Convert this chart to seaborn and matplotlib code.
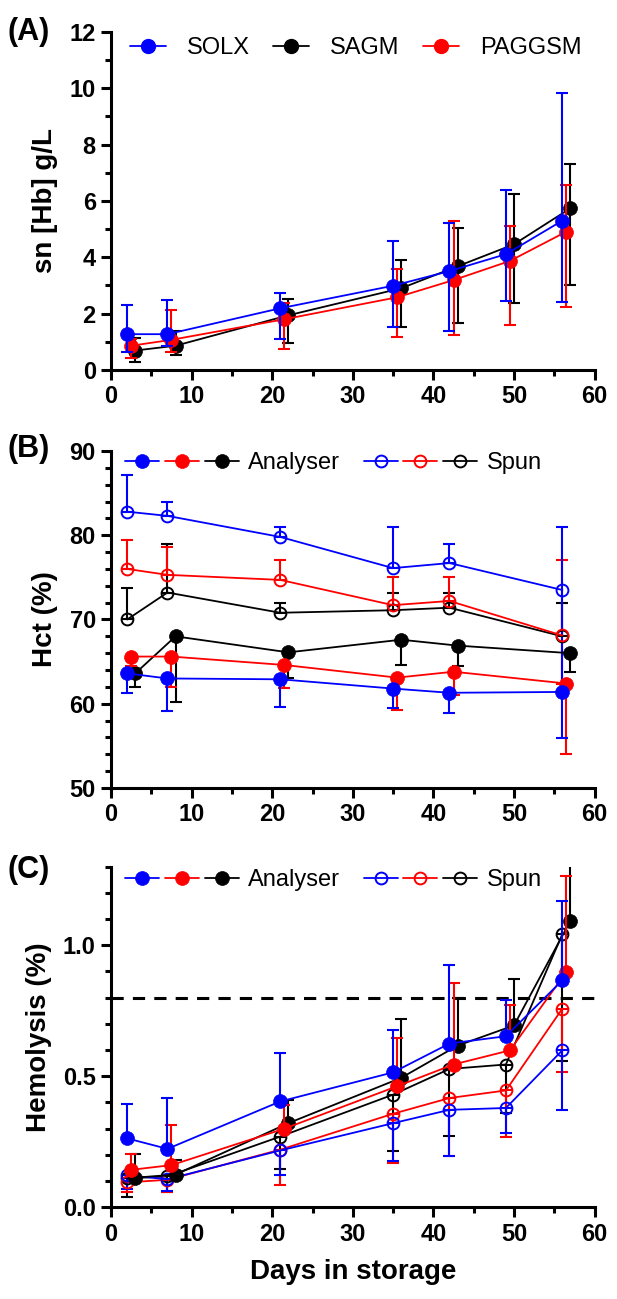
import matplotlib
matplotlib.use('Agg')
import matplotlib.pyplot as plt
import seaborn as sns
from matplotlib.lines import Line2D
from matplotlib.legend_handler import HandlerTuple
from matplotlib.ticker import MultipleLocator

# ---- data ----
# Panel A : supernatant Hb (g/L), mean with lower / upper bar ends
days_a = [2, 7, 21, 35, 42, 49, 56]
solx_hb = [1.27, 1.27, 2.19, 2.99, 3.51, 4.11, 5.30]
solx_hb_lo = [0.65, 0.86, 1.09, 1.54, 1.40, 2.46, 2.42]
solx_hb_hi = [2.31, 2.50, 2.74, 4.58, 5.23, 6.38, 9.83]
sagm_hb = [0.69, 0.86, 1.94, 2.90, 3.68, 4.46, 5.74]
sagm_hb_lo = [0.30, 0.54, 0.97, 1.54, 1.68, 2.39, 3.03]
sagm_hb_hi = [1.15, 1.38, 2.52, 3.90, 5.05, 6.25, 7.30]
pag_hb = [0.86, 1.07, 1.80, 2.58, 3.19, 3.87, 4.91]
pag_hb_lo = [0.44, 0.62, 0.76, 1.18, 1.25, 1.61, 2.25]
pag_hb_hi = [1.10, 2.14, 2.39, 3.58, 5.30, 5.12, 6.55]

# Panel B : Hct (%)  analyser (bars down) / spun (bars up)
days_b = [2, 7, 21, 35, 42, 56]
solx_hct_an = [63.6, 63.0, 62.9, 61.8, 61.3, 61.4]
solx_hct_an_lo = [61.3, 59.1, 59.6, 59.5, 58.9, 55.9]
pag_hct_an = [65.6, 65.6, 64.6, 63.1, 63.8, 62.4]
pag_hct_an_lo = [64.5, 62.0, 61.9, 59.3, 61.0, 54.0]
sagm_hct_an = [63.6, 68.0, 66.1, 67.6, 66.9, 66.0]
sagm_hct_an_lo = [62.0, 60.2, 63.1, 64.6, 64.5, 63.8]
solx_hct_sp = [82.8, 82.3, 79.8, 76.1, 76.7, 73.5]
solx_hct_sp_hi = [87.2, 84.0, 81.0, 81.0, 79.0, 81.0]
solx_hct_sp_lo = [82.8, 82.3, 79.8, 76.1, 76.7, 61.4]
pag_hct_sp = [76.0, 75.3, 74.7, 71.7, 72.2, 68.1]
pag_hct_sp_hi = [79.4, 78.6, 77.1, 75.1, 75.1, 77.1]
pag_hct_sp_lo = [76.0, 75.3, 74.7, 71.7, 72.2, 62.4]
sagm_hct_sp = [70.0, 73.2, 70.8, 71.1, 71.4, 68.0]
sagm_hct_sp_hi = [73.7, 79.0, 72.0, 73.1, 73.1, 71.9]

# Panel C : hemolysis (%)  analyser (bars up) / spun (bars down)
days_c = [2, 7, 21, 35, 42, 49, 56]
solx_hem_an = [0.263, 0.223, 0.404, 0.515, 0.625, 0.653, 0.866]
solx_hem_an_hi = [0.395, 0.418, 0.590, 0.676, 0.925, 0.791, 1.170]
pag_hem_an = [0.143, 0.161, 0.300, 0.462, 0.545, 0.599, 0.898]
pag_hem_an_hi = [0.203, 0.315, 0.389, 0.648, 0.855, 0.774, 1.265]
sagm_hem_an = [0.113, 0.125, 0.321, 0.494, 0.617, 0.694, 1.093]
sagm_hem_an_hi = [0.203, 0.180, 0.410, 0.720, 0.797, 0.870, 1.400]
solx_hem_sp = [0.122, 0.107, 0.217, 0.321, 0.372, 0.379, 0.599]
solx_hem_sp_lo = [0.068, 0.062, 0.124, 0.175, 0.194, 0.283, 0.372]
pag_hem_sp = [0.095, 0.105, 0.220, 0.357, 0.417, 0.446, 0.758]
pag_hem_sp_lo = [0.057, 0.057, 0.085, 0.168, 0.194, 0.270, 0.515]
sagm_hem_sp = [0.110, 0.118, 0.270, 0.430, 0.528, 0.545, 1.042]
sagm_hem_sp_lo = [0.038, 0.060, 0.145, 0.213, 0.273, 0.360, 0.557]
hemolysis_limit = 0.8

BLUE, RED, BLACK = '#0000ff', '#ff0000', '#000000'
MS_FILL = 10
MS_OPEN = 8.5
LW = 1.3
TICK_FS = 17
LABEL_FS = 20
LEG_FS = 17

sns.set_style('ticks', {'axes.edgecolor': 'black', 'xtick.color': 'black',
                        'ytick.color': 'black', 'text.color': 'black',
                        'axes.labelcolor': 'black'})
plt.rcParams['font.family'] = ['Liberation Sans', 'DejaVu Sans']


def series(ax, x, y, lo, hi, color, filled=True, z=3):
    err_lo = [a - b for a, b in zip(y, lo)]
    err_hi = [b - a for a, b in zip(y, hi)]
    ax.errorbar(x, y, yerr=[err_lo, err_hi], fmt='none', ecolor=color,
                elinewidth=1.5, capsize=4.5, capthick=1.5, zorder=z)
    sns.lineplot(x=x, y=y, ax=ax, color=color, linewidth=LW, marker='o',
                 markersize=MS_FILL if filled else MS_OPEN,
                 markerfacecolor=color if filled else 'none',
                 markeredgecolor=color,
                 markeredgewidth=0.5 if filled else 1.4,
                 legend=False, zorder=z + 0.5)


def style_axis(ax, ymin, ymax, major, minor, fmt=None):
    ax.set_xlim(0, 60)
    ax.set_ylim(ymin, ymax)
    ax.xaxis.set_major_locator(MultipleLocator(10))
    ax.xaxis.set_minor_locator(MultipleLocator(5))
    ax.yaxis.set_major_locator(MultipleLocator(major))
    ax.yaxis.set_minor_locator(MultipleLocator(minor))
    if fmt:
        ax.yaxis.set_major_formatter(fmt)
    for s in ['top', 'right']:
        ax.spines[s].set_visible(False)
    for s in ['left', 'bottom']:
        ax.spines[s].set_linewidth(2.2)
    ax.tick_params(which='major', length=7, width=2.2, labelsize=TICK_FS, pad=4)
    ax.tick_params(which='minor', length=4.5, width=2.2)
    for lab in ax.get_xticklabels() + ax.get_yticklabels():
        lab.set_fontweight('bold')
    ax.set_xlabel('')


fig = plt.figure(figsize=(6.17, 12.99), dpi=100)
left, width = 0.180, 0.7836
axA = fig.add_axes([left, 0.7152, width, 0.2602])
axB = fig.add_axes([left, 0.3934, width, 0.2594])
axC = fig.add_axes([left, 0.0706, width, 0.2622])

# ---- (A) ----
dA_pag = [d + 0.5 for d in days_a]
dA_sagm = [d + 1 for d in days_a]
series(axA, dA_sagm, sagm_hb, sagm_hb_lo, sagm_hb_hi, BLACK, z=3)
series(axA, dA_pag, pag_hb, pag_hb_lo, pag_hb_hi, RED, z=4)
series(axA, days_a, solx_hb, solx_hb_lo, solx_hb_hi, BLUE, z=5)
style_axis(axA, 0, 12, 2, 1)
axA.set_ylabel('sn [Hb] g/L', fontsize=LABEL_FS, fontweight='bold', labelpad=8)
hA = [Line2D([], [], color=c, lw=LW, marker='o', ms=MS_FILL) for c in (BLUE, BLACK, RED)]
axA.legend(hA, ['SOLX', 'SAGM', 'PAGGSM'], ncol=3, frameon=False, loc='center left',
           bbox_to_anchor=(0.02, 0.952), fontsize=LEG_FS, handlelength=1.5,
           handletextpad=0.9, columnspacing=1.0, borderaxespad=0)

# ---- (B) ----
dB_pag = [d + 0.5 for d in days_b]
dB_sagm = [d + 1 for d in days_b]
series(axB, days_b, sagm_hct_sp, sagm_hct_sp, sagm_hct_sp_hi, BLACK, filled=False, z=3)
series(axB, days_b, pag_hct_sp, pag_hct_sp_lo, pag_hct_sp_hi, RED, filled=False, z=3)
series(axB, days_b, solx_hct_sp, solx_hct_sp_lo, solx_hct_sp_hi, BLUE, filled=False, z=3)
series(axB, dB_sagm, sagm_hct_an, sagm_hct_an_lo, sagm_hct_an, BLACK, z=4)
series(axB, dB_pag, pag_hct_an, pag_hct_an_lo, pag_hct_an, RED, z=5)
series(axB, days_b, solx_hct_an, solx_hct_an_lo, solx_hct_an, BLUE, z=6)
style_axis(axB, 50, 90, 10, 2)
axB.set_ylabel('Hct (%)', fontsize=LABEL_FS, fontweight='bold', labelpad=8)

# ---- (C) ----
dC_pag = [d + 0.5 for d in days_c]
dC_sagm = [d + 1 for d in days_c]
axC.axhline(hemolysis_limit, color='black', lw=2.2, ls=(0, (4, 3)), zorder=2)
series(axC, days_c, sagm_hem_sp, sagm_hem_sp_lo, sagm_hem_sp, BLACK, filled=False, z=3)
series(axC, days_c, pag_hem_sp, pag_hem_sp_lo, pag_hem_sp, RED, filled=False, z=3)
series(axC, days_c, solx_hem_sp, solx_hem_sp_lo, solx_hem_sp, BLUE, filled=False, z=3)
series(axC, dC_sagm, sagm_hem_an, sagm_hem_an, sagm_hem_an_hi, BLACK, z=4)
series(axC, dC_pag, pag_hem_an, pag_hem_an, pag_hem_an_hi, RED, z=5)
series(axC, days_c, solx_hem_an, solx_hem_an, solx_hem_an_hi, BLUE, z=6)
style_axis(axC, 0, 1.3, 0.5, 0.1, fmt='{x:.1f}')
axC.set_ylabel('Hemolysis (%)', fontsize=LABEL_FS, fontweight='bold', labelpad=8)
axC.set_xlabel('Days in storage', fontsize=LABEL_FS, fontweight='bold', labelpad=10)

# legends B and C
def group(filled):
    return tuple(Line2D([], [], color=c, lw=LW, marker='o',
                        ms=MS_FILL if filled else MS_OPEN,
                        markerfacecolor=c if filled else 'none',
                        markeredgewidth=0.5 if filled else 1.4)
                 for c in (BLUE, RED, BLACK))

for ax, yy in ((axB, 0.963), (axC, 0.96)):
    ax.legend([group(True), group(False)], ['Analyser', 'Spun'], ncol=2,
              handler_map={tuple: HandlerTuple(ndivide=None, pad=0.25)},
              frameon=False, loc='center left', bbox_to_anchor=(0.01, yy),
              fontsize=LEG_FS, handlelength=4.8, handletextpad=0.4,
              columnspacing=1.0, borderaxespad=0)

# panel letters
for lab, yy in (('(A)', 0.975), ('(B)', 0.654), ('(C)', 0.330)):
    fig.text(0.012, yy, lab, fontsize=22, fontweight='bold', va='center', ha='left')

fig.savefig('out.png', dpi=100)
